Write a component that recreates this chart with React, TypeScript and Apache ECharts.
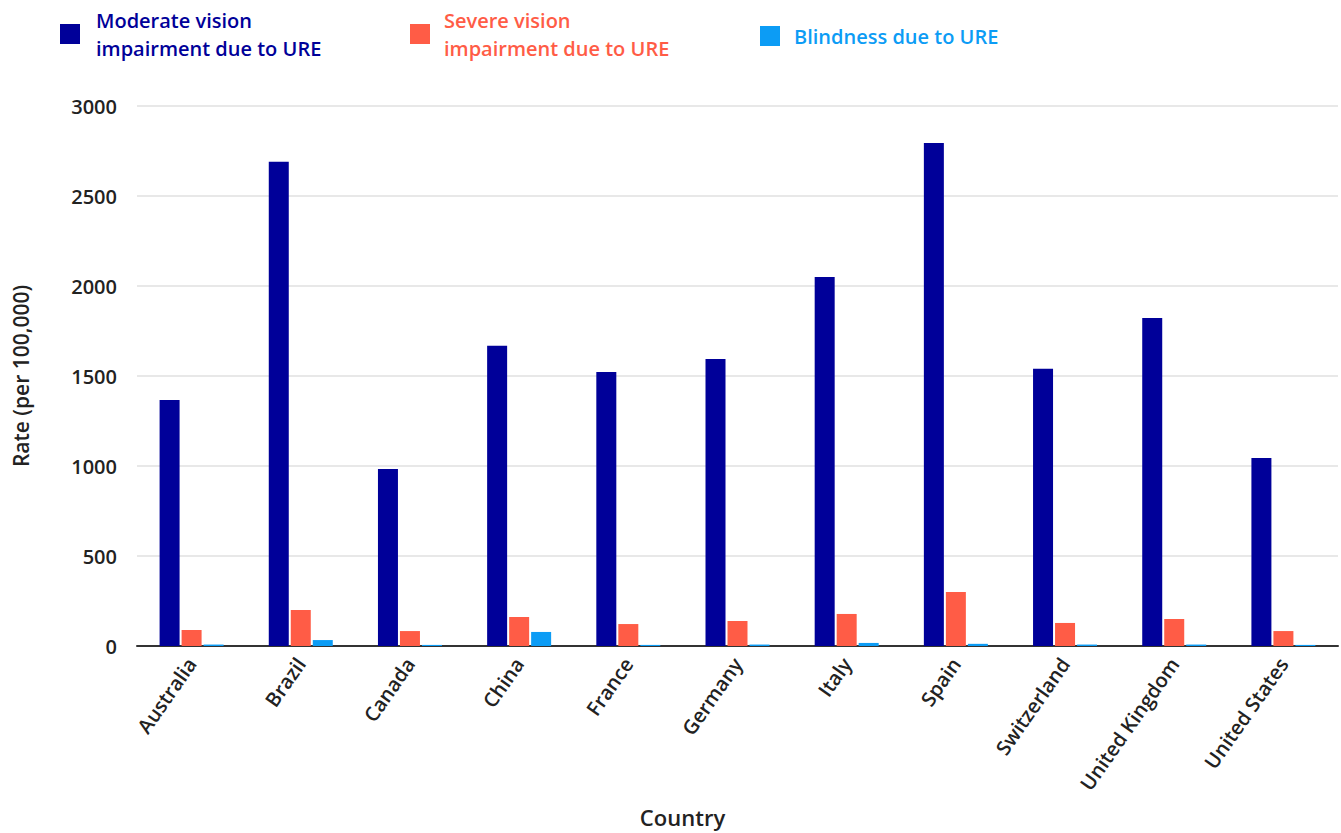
import React, { useEffect, useRef } from "react";
import * as echarts from "echarts";

const countries = ["Australia", "Brazil", "Canada", "China", "France", "Germany", "Italy", "Spain", "Switzerland", "United Kingdom", "United States"];
const moderate = [1367, 2690, 984, 1668, 1522, 1595, 2050, 2795, 1540, 1822, 1045];
const severe = [89, 200, 83, 161, 122, 139, 178, 300, 128, 150, 83];
const blindness = [8, 33, 6, 78, 6, 8, 17, 12, 8, 8, 6];
const seriesNames = [
  "Moderate vision impairment due to URE",
  "Severe vision impairment due to URE",
  "Blindness due to URE",
];
const legendLabels = [
  "Moderate vision\nimpairment due to URE",
  "Severe vision\nimpairment due to URE",
  "Blindness due to URE",
];
const colors = ["#000099", "#ff5c46", "#0c9cf5"];
const yTicks = [0, 500, 1000, 1500, 2000, 2500, 3000];

const FONT = "'Open Sans', 'Noto Sans', sans-serif";

export default function App() {
  const ref = useRef<HTMLDivElement>(null);
  useEffect(() => {
    document.body.style.margin = "0";
    const chart = echarts.init(ref.current!, null, { renderer: "svg" });
    const values = [moderate, severe, blindness];
    const legendX = [60, 410, 760];
    chart.setOption({
      animation: false,
      textStyle: { fontFamily: FONT },
      legend: seriesNames.map((n, i) => ({
        data: [n],
        left: legendX[i],
        top: i === 2 ? 22 : 6,
        padding: 0,
        icon: "rect",
        itemWidth: 20,
        itemHeight: 20,
        itemGap: 0,
        selectedMode: false,
        formatter: () => legendLabels[i],
        textStyle: {
          color: colors[i],
          fontFamily: FONT,
          fontWeight: 600,
          fontSize: 20,
          lineHeight: 28,
          padding: [0, 0, 0, i === 0 ? 11 : 9],
        },
      })),
      grid: { left: 137, right: 3, top: 106, bottom: 187, containLabel: false },
      xAxis: {
        type: "category",
        data: countries,
        name: "Country",
        nameLocation: "middle",
        nameGap: 160,
        nameTextStyle: {
          color: "#222",
          fontSize: 22,
          fontWeight: 600,
          fontFamily: FONT,
          padding: [0, 110, 0, 0],
        },
        axisTick: { show: false },
        axisLine: { lineStyle: { color: "#333", width: 2 } },
        axisLabel: {
          rotate: 55,
          margin: 14,
          color: "#222",
          fontSize: 20,
          fontWeight: 600,
          fontFamily: FONT,
          interval: 0,
        },
      },
      yAxis: {
        type: "value",
        min: 0,
        max: 3000,
        interval: 500,
        name: "Rate (per 100,000)",
        nameLocation: "middle",
        nameGap: 106,
        nameTextStyle: { color: "#222", fontSize: 21, fontWeight: 600, fontFamily: FONT },
        axisLabel: {
          margin: 20,
          color: "#222",
          fontSize: 20,
          fontWeight: 600,
          fontFamily: FONT,
          formatter: (v: number) => (yTicks.includes(v) ? String(v) : ""),
        },
        splitLine: { lineStyle: { color: "#e8e8e8", width: 2 } },
      },
      series: seriesNames.map((n, i) => ({
        name: n,
        type: "bar",
        data: values[i],
        barWidth: 20,
        barGap: "10%",
        itemStyle: { color: colors[i] },
      })),
    });
    return () => chart.dispose();
  }, []);
  return <div ref={ref} style={{ width: 1341, height: 833 }} />;
}
